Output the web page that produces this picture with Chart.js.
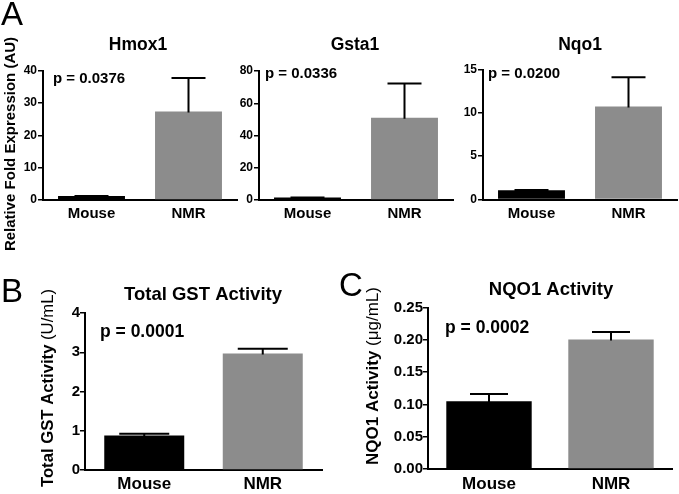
<!DOCTYPE html>
<html><head><meta charset="utf-8">
<script src="https://cdn.jsdelivr.net/npm/chart.js"></script>
<style>
html,body{margin:0;padding:0;background:#fff;width:679px;height:494px;overflow:hidden}
canvas{position:absolute;left:0;top:0}
</style></head><body>
<canvas id="c1" width="679" height="494"></canvas>
<canvas id="c2" width="679" height="494"></canvas>
<canvas id="c3" width="679" height="494"></canvas>
<canvas id="c4" width="679" height="494"></canvas>
<canvas id="c5" width="679" height="494"></canvas>
<script>
// ---- data ----
const categories = ['Mouse', 'NMR'];
const hmox1Values = [1.2, 27.3];
const hmox1Errors = [0.05, 10.4];
const gsta1Values = [1.5, 51.0];
const gsta1Errors = [0.1, 21.2];
const nqo1Values = [1.07, 10.72];
const nqo1Errors = [0.03, 3.4];
const gstActivityValues = [0.88, 2.97];
const gstActivityErrors = [0.045, 0.12];
const nqo1ActivityValues = [0.105, 0.2006];
const nqo1ActivityErrors = [0.011, 0.0113];
const hmox1Ticks = [0, 10, 20, 30, 40];
const gsta1Ticks = [0, 20, 40, 60, 80];
const nqo1Ticks = [0, 5, 10, 15];
const gstActivityTicks = [0, 1, 2, 3, 4];
const nqo1ActivityTicks = ['0.00', '0.05', '0.10', '0.15', '0.20', '0.25'];
const titles = ['Hmox1', 'Gsta1', 'Nqo1', 'Total GST Activity', 'NQO1 Activity'];
const pTexts = ['p = 0.0376', 'p = 0.0336', 'p = 0.0200', 'p = 0.0001', 'p = 0.0002'];
const yLabelA = 'Relative Fold Expression (AU)';
const yLabelB = ['Total GST Activity ', '(U/mL)'];
const yLabelC = ['NQO1 Activity ', '(\u03bcg/mL)'];
const panelLetters = ['A', 'B', 'C'];
const barColors = ['#000000', '#8c8c8c'];

const FAM = '"Liberation Sans", Arial, Helvetica, sans-serif';
const W = 679, H = 494;

function annotPlugin(items) {
  return {
    id: 'annot',
    afterDraw(chart) {
      const ctx = chart.ctx;
      items.forEach(it => {
        ctx.save();
        ctx.translate(it.x, it.y);
        if (it.rotate) ctx.rotate(it.rotate);
        ctx.textBaseline = it.baseline || 'alphabetic';
        ctx.fillStyle = '#000';
        ctx.textAlign = 'left';
        let total = 0;
        const widths = it.segments.map(s => { ctx.font = s.font; const w = ctx.measureText(s.text).width; total += w; return w; });
        let x = it.align === 'center' ? -total / 2 : (it.align === 'right' ? -total : 0);
        it.segments.forEach((s, i) => { ctx.font = s.font; ctx.fillText(s.text, x, 0); x += widths[i]; });
        ctx.restore();
      });
    }
  };
}

function errPlugin(values, errors, capHalf) {
  return {
    id: 'errbars',
    afterDatasetsDraw(chart) {
      const ctx = chart.ctx;
      const meta = chart.getDatasetMeta(0);
      const ys = chart.scales.y;
      ctx.save();
      ctx.strokeStyle = '#000';
      ctx.lineWidth = 2;
      meta.data.forEach((bar, i) => {
        const x = bar.x;
        const y0 = ys.getPixelForValue(values[i]);
        const y1 = ys.getPixelForValue(values[i] + errors[i]);
        ctx.beginPath();
        ctx.moveTo(x, y0 + 1);
        ctx.lineTo(x, y1);
        ctx.moveTo(x - capHalf, y1);
        ctx.lineTo(x + capHalf, y1);
        ctx.stroke();
      });
      ctx.restore();
    }
  };
}

function makeChart(id, cfg) {
  const yW = cfg.yW, xH = cfg.xH;
  return new Chart(document.getElementById(id), {
    type: 'bar',
    data: {
      labels: categories,
      datasets: [{
        data: cfg.values,
        backgroundColor: barColors,
        borderWidth: 0,
        barPercentage: cfg.barPct,
        categoryPercentage: 1
      }]
    },
    options: {
      responsive: false,
      animation: false,
      devicePixelRatio: 1,
      layout: { padding: { left: cfg.L - yW, top: cfg.T, right: W - cfg.R, bottom: H - cfg.B - xH } },
      plugins: { legend: { display: false }, tooltip: { enabled: false }, title: { display: false } },
      scales: {
        x: {
          afterFit(s) { s.height = xH; },
          grid: { display: false, drawTicks: false },
          border: { display: true, color: '#000', width: 2 },
          ticks: { color: '#000', padding: cfg.xPad, font: { family: FAM, size: cfg.catSize, weight: 'bold' } }
        },
        y: {
          min: cfg.min, max: cfg.max,
          afterFit(s) { s.width = yW; },
          afterBuildTicks(s) { s.ticks = cfg.ticks.map(v => ({ value: Number(v) })); },
          grid: { display: true, drawOnChartArea: false, drawTicks: true, tickLength: 5, color: '#000', lineWidth: 1.5 },
          border: { display: true, color: '#000', width: 2 },
          ticks: {
            color: '#000', padding: cfg.yPad,
            font: { family: FAM, size: cfg.tickSize, weight: 'bold' },
            callback: (v, i) => String(cfg.ticks[i])
          }
        }
      }
    },
    plugins: [errPlugin(cfg.values, cfg.errors, cfg.cap), annotPlugin(cfg.texts)]
  });
}

const bold = s => 'bold ' + s + 'px ' + FAM;
const reg = s => s + 'px ' + FAM;

makeChart('c1', {
  values: hmox1Values, errors: hmox1Errors, ticks: hmox1Ticks, min: 0, max: 40,
  L: 43, T: 70.5, R: 237, B: 200, yW: 30, xH: 25, barPct: 0.69, cap: 17,
  catSize: 15, tickSize: 12, xPad: 5, yPad: 1,
  texts: [
    { x: 138, y: 50, align: 'center', segments: [{ text: titles[0], font: bold(17.5) }] },
    { x: 53, y: 83, segments: [{ text: pTexts[0], font: bold(15) }] },
    { x: 11, y: 144, rotate: -Math.PI / 2, align: 'center', baseline: 'middle', segments: [{ text: yLabelA, font: bold(15) }] },
    { x: 1, y: 25, segments: [{ text: panelLetters[0], font: reg(33) }] }
  ]
});
makeChart('c2', {
  values: gsta1Values, errors: gsta1Errors, ticks: gsta1Ticks, min: 0, max: 80,
  L: 259, T: 71, R: 453, B: 200, yW: 30, xH: 25, barPct: 0.69, cap: 17,
  catSize: 15, tickSize: 12, xPad: 5, yPad: 1,
  texts: [
    { x: 355, y: 50, align: 'center', segments: [{ text: titles[1], font: bold(17.5) }] },
    { x: 265, y: 78, segments: [{ text: pTexts[1], font: bold(15) }] }
  ]
});
makeChart('c3', {
  values: nqo1Values, errors: nqo1Errors, ticks: nqo1Ticks, min: 0, max: 15,
  L: 483, T: 69.5, R: 677, B: 199.5, yW: 30, xH: 25, barPct: 0.69, cap: 17,
  catSize: 15, tickSize: 12, xPad: 5, yPad: 1,
  texts: [
    { x: 580, y: 50, align: 'center', segments: [{ text: titles[2], font: bold(17.5) }] },
    { x: 488, y: 78, segments: [{ text: pTexts[2], font: bold(15) }] }
  ]
});
makeChart('c4', {
  values: gstActivityValues, errors: gstActivityErrors, ticks: gstActivityTicks, min: 0, max: 4,
  L: 85, T: 313, R: 322, B: 470, yW: 30, xH: 24, barPct: 0.675, cap: 25,
  catSize: 17, tickSize: 15, xPad: 4, yPad: 0,
  texts: [
    { x: 203, y: 300, align: 'center', segments: [{ text: titles[3], font: bold(18.5) }] },
    { x: 100, y: 337, segments: [{ text: pTexts[3], font: bold(17.5) }] },
    { x: 48, y: 388, rotate: -Math.PI / 2, align: 'center', baseline: 'middle', segments: [{ text: yLabelB[0], font: bold(16.7) }, { text: yLabelB[1], font: reg(16.7) }] },
    { x: 1, y: 302, segments: [{ text: panelLetters[1], font: reg(33) }] }
  ]
});
makeChart('c5', {
  values: nqo1ActivityValues, errors: nqo1ActivityErrors, ticks: nqo1ActivityTicks, min: 0, max: 0.25,
  L: 428, T: 307.5, R: 672, B: 469, yW: 40, xH: 25, barPct: 0.70, cap: 19,
  catSize: 17, tickSize: 15, xPad: 5, yPad: 0,
  texts: [
    { x: 551, y: 295, align: 'center', segments: [{ text: titles[4], font: bold(18.5) }] },
    { x: 445, y: 333, segments: [{ text: pTexts[4], font: bold(17.5) }] },
    { x: 373, y: 376, rotate: -Math.PI / 2, align: 'center', baseline: 'middle', segments: [{ text: yLabelC[0], font: bold(17) }, { text: yLabelC[1], font: reg(17) }] },
    { x: 339, y: 296, segments: [{ text: panelLetters[2], font: reg(33) }] }
  ]
});
</script>
</body></html>
